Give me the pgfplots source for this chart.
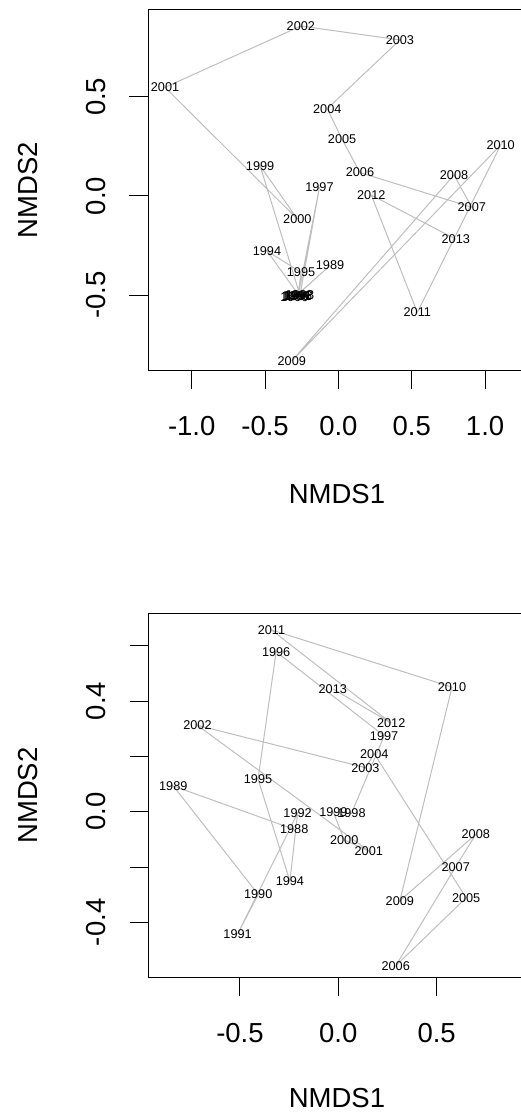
\documentclass[border=0pt]{standalone}
\usepackage{fontspec}
\setmainfont{Liberation Sans}
\usepackage{pgfplots}
\pgfplotsset{compat=1.18}
\usepackage{pgfplotstable}
\definecolor{lg}{RGB}{190,190,190}

\pgfplotstableread{
yr x y
1988 -0.290 -0.505
1989 -0.057 -0.351
1990 -0.300 -0.510
1991 -0.280 -0.505
1992 -0.270 -0.500
1994 -0.487 -0.277
1995 -0.255 -0.385
1996 -0.275 -0.503
1997 -0.129 0.044
1998 -0.262 -0.500
1999 -0.534 0.153
2000 -0.280 -0.116
2001 -1.182 0.548
2002 -0.256 0.857
2003 0.419 0.787
2004 -0.076 0.440
2005 0.025 0.286
2006 0.147 0.118
2007 0.909 -0.057
2008 0.788 0.106
2009 -0.318 -0.832
2010 1.106 0.257
2011 0.538 -0.587
2012 0.224 0.005
2013 0.800 -0.218
}\dataA

\pgfplotstableread{
yr x y
1988 -0.224 -0.064
1989 -0.839 0.093
1990 -0.407 -0.299
1991 -0.512 -0.442
1992 -0.207 -0.006
1994 -0.246 -0.251
1995 -0.408 0.118
1996 -0.316 0.578
1997 0.233 0.274
1998 0.067 -0.006
1999 -0.025 -0.002
2000 0.030 -0.102
2001 0.155 -0.142
2002 -0.716 0.312
2003 0.138 0.159
2004 0.183 0.209
2005 0.650 -0.311
2006 0.292 -0.557
2007 0.597 -0.199
2008 0.699 -0.082
2009 0.313 -0.322
2010 0.578 0.450
2011 -0.340 0.657
2012 0.269 0.320
2013 -0.028 0.444
}\dataB

\pgfplotsset{
  nmds/.style={
    scale only axis, anchor=south west,
    axis line style={line width=1pt, black},
    tick align=outside, major tick length=18.5pt,
    tick style={black, line width=1pt},
    tick pos=left,
    ticklabel style={font=\fontsize{27.5}{28}\selectfont},
    xticklabel style={anchor=base, inner sep=0pt},
    yticklabel style={rotate=90, anchor=base, inner sep=0pt},
    xticklabel shift=46pt,
    yticklabel shift=24pt,
    label style={font=\fontsize{27.5}{28}\selectfont},
    xlabel=NMDS1, ylabel=NMDS2,
    minor tick num=0,
  },
  yrline/.style={color=lg, line width=1pt, mark=none,
    nodes near coords, point meta=explicit symbolic,
    every node near coord/.style={anchor=center, text=black, inner sep=0pt,
      font=\fontsize{12.7}{13}\selectfont}},
}

\begin{document}
\begin{tikzpicture}
\useasboundingbox (0pt,0pt) rectangle (520pt,1113pt);
\begin{axis}[nmds, at={(148pt,742pt)}, width=382pt, height=361pt,
  xmin=-1.298, xmax=1.306, ymin=-0.8825, ymax=0.938,
  xtick={-1,-0.5,0,0.5,1}, xticklabels={-1.0,-0.5,0.0,0.5,1.0},
  ytick={-0.5,0,0.5}, yticklabels={-0.5,0.0,0.5},
  xlabel style={at={(axis description cs:0.4948,-0.3407)}, anchor=center},
  ylabel style={at={(axis description cs:-0.3141,0.5)}, anchor=center},
]
\addplot[yrline] table[x=x, y=y, meta=yr] {\dataA};
\end{axis}
\begin{axis}[nmds, at={(148pt,135pt)}, width=382pt, height=365pt,
  xmin=-0.9675, xmax=0.9746, ymin=-0.601, ymax=0.718,
  xtick={-0.5,0,0.5}, xticklabels={-0.5,0.0,0.5},
  ytick={-0.4,-0.2,0,0.2,0.4,0.6}, yticklabels={-0.4,,0.0,,0.4,},
  xlabel style={at={(axis description cs:0.4948,-0.3288)}, anchor=center},
  ylabel style={at={(axis description cs:-0.3141,0.5)}, anchor=center},
]
\addplot[yrline] table[x=x, y=y, meta=yr] {\dataB};
\end{axis}
\end{tikzpicture}
\end{document}
